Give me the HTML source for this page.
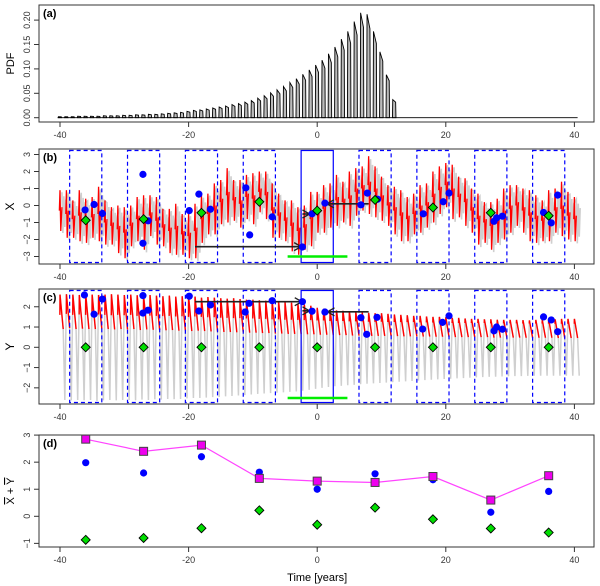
<!DOCTYPE html>
<html><head><meta charset="utf-8"><style>
html,body{margin:0;padding:0;background:#fff;}
svg{display:block;font-family:"Liberation Sans",sans-serif;}
</style></head><body>
<svg id="chart" width="600" height="586" viewBox="0 0 600 586" xmlns="http://www.w3.org/2000/svg">
<g id="root"></g>
</svg>
<script>
// ---------- data ----------
const pdfYears = [];
for (let t = -40; t <= 12; t++) pdfYears.push(t);
const pdfValues = [.002,.002,.002,.003,.003,.003,.003,.004,.004,.004,
 .005,.005,.006,.006,.007,.007,.008,.009,.010,.011,
 .013,.015,.016,.018,.020,.022,.024,.027,.029,.032,
 .035,.040,.045,.051,.057,.064,.072,.080,.089,.098,
 .108,.118,.131,.145,.161,.177,.197,.215,.212,.177,.135,.088,.037];
const xTicksTime = [-40,-20,0,20,40];
const pdfTicks = [0,0.05,0.10,0.15,0.20];
const pdfTickLabels = ["0.00","0.05","0.10","0.15","0.20"];

const seriesYears = [];
for (let t = -40; t <= 40; t++) seriesYears.push(t);
const xMid = [-0.3,-0.5,-0.8,-0.6,-0.9,-0.7,-0.5,-1.0,-1.2,-1.4,
 -1.6,-1.2,-0.8,-1.0,-0.6,-0.9,-1.3,-1.5,-1.4,-1.7,
 -1.8,-1.5,-0.8,-0.5,-0.2,0.2,0.6,0.3,0.1,0.5,
 0.4,0.8,0.6,-0.3,-0.6,-0.9,-1.2,-1.5,-1.3,-0.8,
 -0.4,-0.2,0.0,0.3,0.2,0.4,0.8,1.0,1.2,0.8,
 0.4,0.0,-0.3,-0.6,-0.8,-0.5,-0.2,0.0,0.5,0.9,
 1.2,0.8,0.5,0.2,-0.3,-0.8,-1.0,-1.2,-0.9,-0.5,
 -0.2,0.0,-0.3,-0.6,-0.8,-0.9,-0.6,-0.3,-0.2,-0.6,-0.8];
const xAmp = [1.2,1.4,1.1,1.5,1.3,1.2,1.6,1.3,1.1,1.4,
 1.5,1.2,1.3,1.6,1.2,1.4,1.1,1.3,1.5,1.2,
 1.3,1.6,1.4,1.2,1.5,1.3,1.6,1.2,1.4,1.3,
 1.5,1.2,1.4,1.6,1.3,1.2,1.5,1.4,1.3,1.6,
 1.2,1.4,1.3,1.5,1.2,1.6,1.4,1.3,1.7,1.5,
 1.3,1.2,1.4,1.5,1.3,1.2,1.4,1.3,1.5,1.4,
 1.3,1.6,1.2,1.4,1.3,1.5,1.2,1.4,1.3,1.5,
 1.4,1.2,1.3,1.5,1.4,1.2,1.5,1.3,1.6,1.4,1.3];
const yHi = [2.6,2.62,2.6,2.58,2.62,2.6,2.58,2.6,2.62,2.6,
 2.58,2.6,2.57,2.55,2.58,2.55,2.52,2.55,2.5,2.52,
 2.5,2.5,2.45,2.48,2.45,2.42,2.4,2.42,2.38,2.35,
 2.35,2.32,2.3,2.28,2.25,2.22,2.2,2.15,2.1,2.05,
 1.95,1.9,1.85,1.82,1.8,1.78,1.75,1.72,1.7,1.68,
 1.68,1.65,1.62,1.6,1.58,1.55,1.55,1.52,1.5,1.5,
 1.48,1.45,1.45,1.42,1.4,1.4,1.38,1.38,1.36,1.35,
 1.35,1.35,1.34,1.33,1.35,1.36,1.38,1.38,1.4,1.4,1.4];
const yLo = [-2.6,-2.62,-2.6,-2.62,-2.6,-2.65,-2.62,-2.6,-2.62,-2.6,
 -2.6,-2.62,-2.58,-2.6,-2.57,-2.58,-2.55,-2.56,-2.55,-2.52,
 -2.5,-2.5,-2.48,-2.46,-2.45,-2.42,-2.4,-2.38,-2.36,-2.33,
 -2.3,-2.28,-2.26,-2.24,-2.22,-2.2,-2.18,-2.14,-2.1,-2.05,
 -2.0,-1.96,-1.92,-1.9,-1.87,-1.85,-1.82,-1.8,-1.78,-1.76,
 -1.74,-1.72,-1.7,-1.68,-1.66,-1.64,-1.62,-1.6,-1.58,-1.56,
 -1.55,-1.53,-1.52,-1.5,-1.48,-1.47,-1.46,-1.45,-1.44,-1.43,
 -1.42,-1.42,-1.41,-1.4,-1.4,-1.4,-1.4,-1.4,-1.4,-1.4,-1.4];
const yRedLo = [0.9,0.95,0.9,0.92,0.9,0.9,0.92,0.9,0.88,0.9,
 0.88,0.9,0.85,0.88,0.86,0.85,0.84,0.85,0.82,0.83,
 0.8,0.82,0.8,0.78,0.78,0.76,0.75,0.74,0.74,0.72,
 0.72,0.7,0.7,0.68,0.68,0.66,0.66,0.65,0.64,0.64,
 0.62,0.62,0.6,0.6,0.6,0.58,0.58,0.58,0.56,0.56,
 0.56,0.55,0.55,0.54,0.54,0.54,0.53,0.53,0.52,0.52,
 0.52,0.5,0.5,0.5,0.5,0.5,0.5,0.48,0.48,0.48,
 0.48,0.48,0.47,0.47,0.47,0.47,0.47,0.46,0.46,0.46,0.46];

const windowCenters = [-36,-27,-18,-9,0,9,18,27,36];
const greenX = [-0.87,-0.8,-0.43,0.22,-0.3,0.33,-0.12,-0.43,-0.6];
const blueXTimes = [-36.1,-34.7,-33.4,-27.1,-27.1,-26.3,-19.9,-18.4,-16.6,-11.1,-10.5,-7,-2.3,-0.8,1.2,6.8,7.8,9.4,16.5,19.6,20.5,27.5,27.9,28.8,35.2,36.4,37.4];
const blueXValues = [-0.26,0.06,-0.47,1.83,-2.22,-0.9,-0.3,0.67,-0.22,1.04,-1.73,-0.67,-2.44,-0.49,0.14,0.04,0.73,0.37,-0.49,0.22,0.73,-0.93,-0.73,-0.63,-0.41,-1.02,0.61];
const blueYTimes = [-36.2,-34.7,-33.4,-27.1,-27.1,-26.3,-19.9,-18.4,-16.6,-11.2,-10.6,-7,-2.3,-0.8,1.2,6.8,7.7,9.3,16.4,19.5,20.5,27.5,27.9,28.8,35.2,36.4,37.4];
const blueYValues = [2.58,1.63,2.38,2.55,1.69,1.83,2.52,1.79,2.09,1.74,2.17,2.3,2.25,1.78,1.74,1.46,0.64,1.48,0.9,1.23,1.55,0.81,1.0,0.89,1.5,1.35,0.77];
const greenY = [0,0,0,0,0,0,0,0,0];

const dMagenta = [2.85,2.4,2.63,1.4,1.3,1.25,1.47,0.6,1.5];
const dBlue = [1.98,1.6,2.2,1.63,1.0,1.57,1.35,0.15,0.92];
const dGreen = [-0.87,-0.8,-0.44,0.22,-0.31,0.32,-0.11,-0.45,-0.6];

// ---------- helpers ----------
const NS = "http://www.w3.org/2000/svg";
const root = document.getElementById('root');
function el(tag, attrs, parent, text) {
  const e = document.createElementNS(NS, tag);
  for (const k in attrs) e.setAttribute(k, attrs[k]);
  if (text !== undefined) e.textContent = text;
  (parent || root).appendChild(e);
  return e;
}
const X = t => 60 + (t + 40) * 6.43;
const LEFT = 39, RIGHT = 594;
const panels = {
  a: {top: 5, bot: 122, Y: v => 117.7 - v * 488},
  b: {top: 149, bot: 264, Y: v => 205.5 - 17 * v},
  c: {top: 289, bot: 404, Y: v => 347.3 - 20.27 * v},
  d: {top: 435, bot: 547, Y: v => 516.3 - 27.07 * v}
};

function frame(key, yTicks, yLabels, title, label) {
  const p = panels[key];
  const g = el('g', {});
  
  
  const box = el('rect', {x: LEFT, y: p.top, width: RIGHT - LEFT, height: p.bot - p.top, fill: 'none', stroke: '#333', 'stroke-width': 1}, g);
  
  
  // x axis
  const xa = el('g', {}, g);
  
  
  el('line', {x1: X(-40), x2: X(40), y1: p.bot, y2: p.bot, stroke: '#333'}, xa);
  xTicksTime.forEach(t => {
    el('line', {x1: X(t), x2: X(t), y1: p.bot, y2: p.bot + 5, stroke: '#333'}, xa);
    const tx = el('text', {x: X(t), y: p.bot + 16, 'font-size': 9, fill: '#333', 'text-anchor': 'middle'}, xa, t);
    
    
  });
  // y axis
  const ya = el('g', {}, g);
  
  
  el('line', {x1: LEFT, x2: LEFT, y1: p.Y(yTicks[0]), y2: p.Y(yTicks[yTicks.length - 1]), stroke: '#333'}, ya);
  yTicks.forEach((v, i) => {
    const y = p.Y(v);
    el('line', {x1: LEFT - 5, x2: LEFT, y1: y, y2: y, stroke: '#333'}, ya);
    const tx = el('text', {x: 0, y: 0, 'font-size': 9, fill: '#333', 'text-anchor': 'middle', transform: `translate(${LEFT - 9},${y}) rotate(-90)`}, ya, yLabels[i]);
    
    
  });
  const lab = el('text', {x: LEFT + 4, y: p.top + 12, 'font-size': 11, 'font-weight': 'bold', fill: '#000'}, g, label);
  
  
  return g;
}
function dot(g, t, v, Y) {
  const c = el('circle', {cx: X(t), cy: Y(v), r: 3.6, fill: '#0000ff'}, g);
  
  
}
function diamond(g, t, v, Y) {
  const x = X(t), y = Y(v), s = 4.5;
  const d = el('polygon', {points: `${x},${y - s} ${x + s},${y} ${x},${y + s} ${x - s},${y}`, fill: '#00dd00', stroke: '#000', 'stroke-width': 0.9}, g);
  
  
}
function arrow(g, t1, t2, v, Y) {
  const x1 = X(t1), x2 = X(t2), y = Y(v);
  const dir = x2 > x1 ? 1 : -1;
  el('line', {x1, x2, y1: y, y2: y, stroke: '#222', 'stroke-width': 1.6}, g);
  el('polyline', {points: `${x2 - dir * 7},${y - 4} ${x2},${y} ${x2 - dir * 7},${y + 4}`, fill: 'none', stroke: '#222', 'stroke-width': 1.4}, g);
}
function windows(g, p) {
  windowCenters.forEach(c => {
    const r = el('rect', {x: X(c - 2.5), y: p.top + 1.5, width: X(c + 2.5) - X(c - 2.5), height: p.bot - p.top - 3, fill: 'none', stroke: '#0000ff', 'stroke-width': 1.2, 'stroke-dasharray': c === 0 ? 'none' : '4,3'}, g);
    
    
  });
}

// ---------- panel a ----------
const ga = frame('a', pdfTicks, pdfTickLabels, 'PDF', '(a)');
{
  const Y = panels.a.Y;
  let base = `${X(-40.3)},${Y(0)}`;
  pdfYears.forEach((t, i) => {
    const h = pdfValues[i];
    const sp = el('polygon', {points: `${X(t - 0.3)},${Y(0)} ${X(t - 0.25)},${Y(h)} ${X(t + 0.2)},${Y(h * 0.86)} ${X(t + 0.25)},${Y(0)}`, fill: '#bbb', stroke: '#000', 'stroke-width': 0.9}, ga);
    
    
  });
  const bl = el('line', {x1: X(-40.3), x2: X(40.5), y1: Y(0), y2: Y(0), stroke: '#000', 'stroke-width': 0.9}, ga);
  
  
}
const tA = el('text', {x: 0, y: 0, 'font-size': 11, transform: `translate(14,${(panels.a.top + panels.a.bot) / 2}) rotate(-90)`, 'text-anchor': 'middle'}, ga, 'PDF');



// ---------- panel b ----------
const gb = frame('b', [-3,-2,-1,0,1,2,3], ['−3','−2','−1','0','1','2','3'], 'X', '(b)');
{
  const Y = panels.b.Y;
  let grey = [], red = [];
  seriesYears.forEach((t, i) => {
    const m = xMid[i], a = xAmp[i];
    grey.push(`${X(t + 0.3)},${Y(m + a * 0.9)}`, `${X(t + 0.45)},${Y(m - a * 1.1)}`, `${X(t + 0.6)},${Y(m + a * 0.7)}`, `${X(t + 0.75)},${Y(m - a * 0.8)}`, `${X(t + 0.9)},${Y(m + a * 0.5)}`);
  });
  const gl = el('polyline', {points: grey.join(' '), fill: 'none', stroke: '#cfcfcf', 'stroke-width': 1.6}, gb);
  
  
  seriesYears.forEach((t, i) => {
    const m = xMid[i], a = xAmp[i];
    const r = el('polyline', {points: `${X(t - 0.1)},${Y(m)} ${X(t)},${Y(m + a)} ${X(t + 0.12)},${Y(m - a)} ${X(t + 0.3)},${Y(m + 0.2)}`, fill: 'none', stroke: '#ff0000', 'stroke-width': 1.3}, gb);
    
    
  });
  windows(gb, panels.b);
  const gr = el('line', {x1: X(-4.6), x2: X(4.7), y1: Y(-3), y2: Y(-3), stroke: '#00ee00', 'stroke-width': 2.5}, gb);
  
  
  arrow(gb, -19, -2.5, -2.42, Y);
  arrow(gb, 8, 1.5, 0.1, Y);
  arrow(gb, -2.3, -1.2, -0.5, Y);
  blueXTimes.forEach((t, i) => dot(gb, t, blueXValues[i], Y));
  windowCenters.forEach((t, i) => diamond(gb, t, greenX[i], Y));
}
const tB = el('text', {x: 0, y: 0, 'font-size': 12, transform: `translate(14,${(panels.b.top + panels.b.bot) / 2}) rotate(-90)`, 'text-anchor': 'middle'}, gb, 'X');



// ---------- panel c ----------
const gc = frame('c', [-2,-1,0,1,2], ['−2','−1','0','1','2'], 'Y', '(c)');
{
  const Y = panels.c.Y;
  let grey = [];
  seriesYears.forEach((t, i) => {
    grey.push(`${X(t)},${Y(yHi[i])}`, `${X(t + 0.5)},${Y(yRedLo[i])}`, `${X(t + 0.75)},${Y(yLo[i])}`);
  });
  const gl = el('polyline', {points: grey.join(' '), fill: 'none', stroke: '#cfcfcf', 'stroke-width': 1.5}, gc);
  
  
  seriesYears.forEach((t, i) => {
    const r = el('polyline', {points: `${X(t - 0.02)},${Y(yRedLo[i] + 0.7)} ${X(t)},${Y(yHi[i])} ${X(t + 0.5)},${Y(yRedLo[i])}`, fill: 'none', stroke: '#ff0000', 'stroke-width': 1.4}, gc);
    
    
  });
  windows(gc, panels.c);
  const gr = el('line', {x1: X(-4.6), x2: X(4.7), y1: Y(-2.5), y2: Y(-2.5), stroke: '#00ee00', 'stroke-width': 2.5}, gc);
  
  
  arrow(gc, -19, -2.4, 2.25, Y);
  arrow(gc, 8, 1.6, 1.75, Y);
  arrow(gc, -2.3, -1.2, 1.8, Y);
  blueYTimes.forEach((t, i) => dot(gc, t, blueYValues[i], Y));
  windowCenters.forEach((t, i) => diamond(gc, t, greenY[i], Y));
}
const tC = el('text', {x: 0, y: 0, 'font-size': 12, transform: `translate(14,${(panels.c.top + panels.c.bot) / 2}) rotate(-90)`, 'text-anchor': 'middle'}, gc, 'Y');



// ---------- panel d ----------
const gd = frame('d', [-1,0,1,2,3], ['−1','0','1','2','3'], '', '(d)');
{
  const Y = panels.d.Y;
  const ln = el('polyline', {points: windowCenters.map((t, i) => `${X(t)},${Y(dMagenta[i])}`).join(' '), fill: 'none', stroke: '#ff44ff', 'stroke-width': 1.2}, gd);
  
  
  windowCenters.forEach((t, i) => dot(gd, t, dBlue[i], Y));
  windowCenters.forEach((t, i) => diamond(gd, t, dGreen[i], Y));
  windowCenters.forEach((t, i) => {
    const s = el('rect', {x: X(t) - 4, y: Y(dMagenta[i]) - 4, width: 8, height: 8, fill: '#ee00ee', stroke: '#444', 'stroke-width': 1}, gd);
    
    
  });
}
const tD = el('text', {x: 0, y: 0, 'font-size': 11, transform: `translate(14,${(panels.d.top + panels.d.bot) / 2}) rotate(-90)`, 'text-anchor': 'middle'}, gd);


el('tspan', {'text-decoration': 'overline'}, tD, 'X');
el('tspan', {}, tD, ' + ');
el('tspan', {'text-decoration': 'overline'}, tD, 'Y');
const xt = el('text', {x: X(0), y: 581, 'font-size': 11, 'text-anchor': 'middle'}, gd, 'Time [years]');


</script>
</body></html>
